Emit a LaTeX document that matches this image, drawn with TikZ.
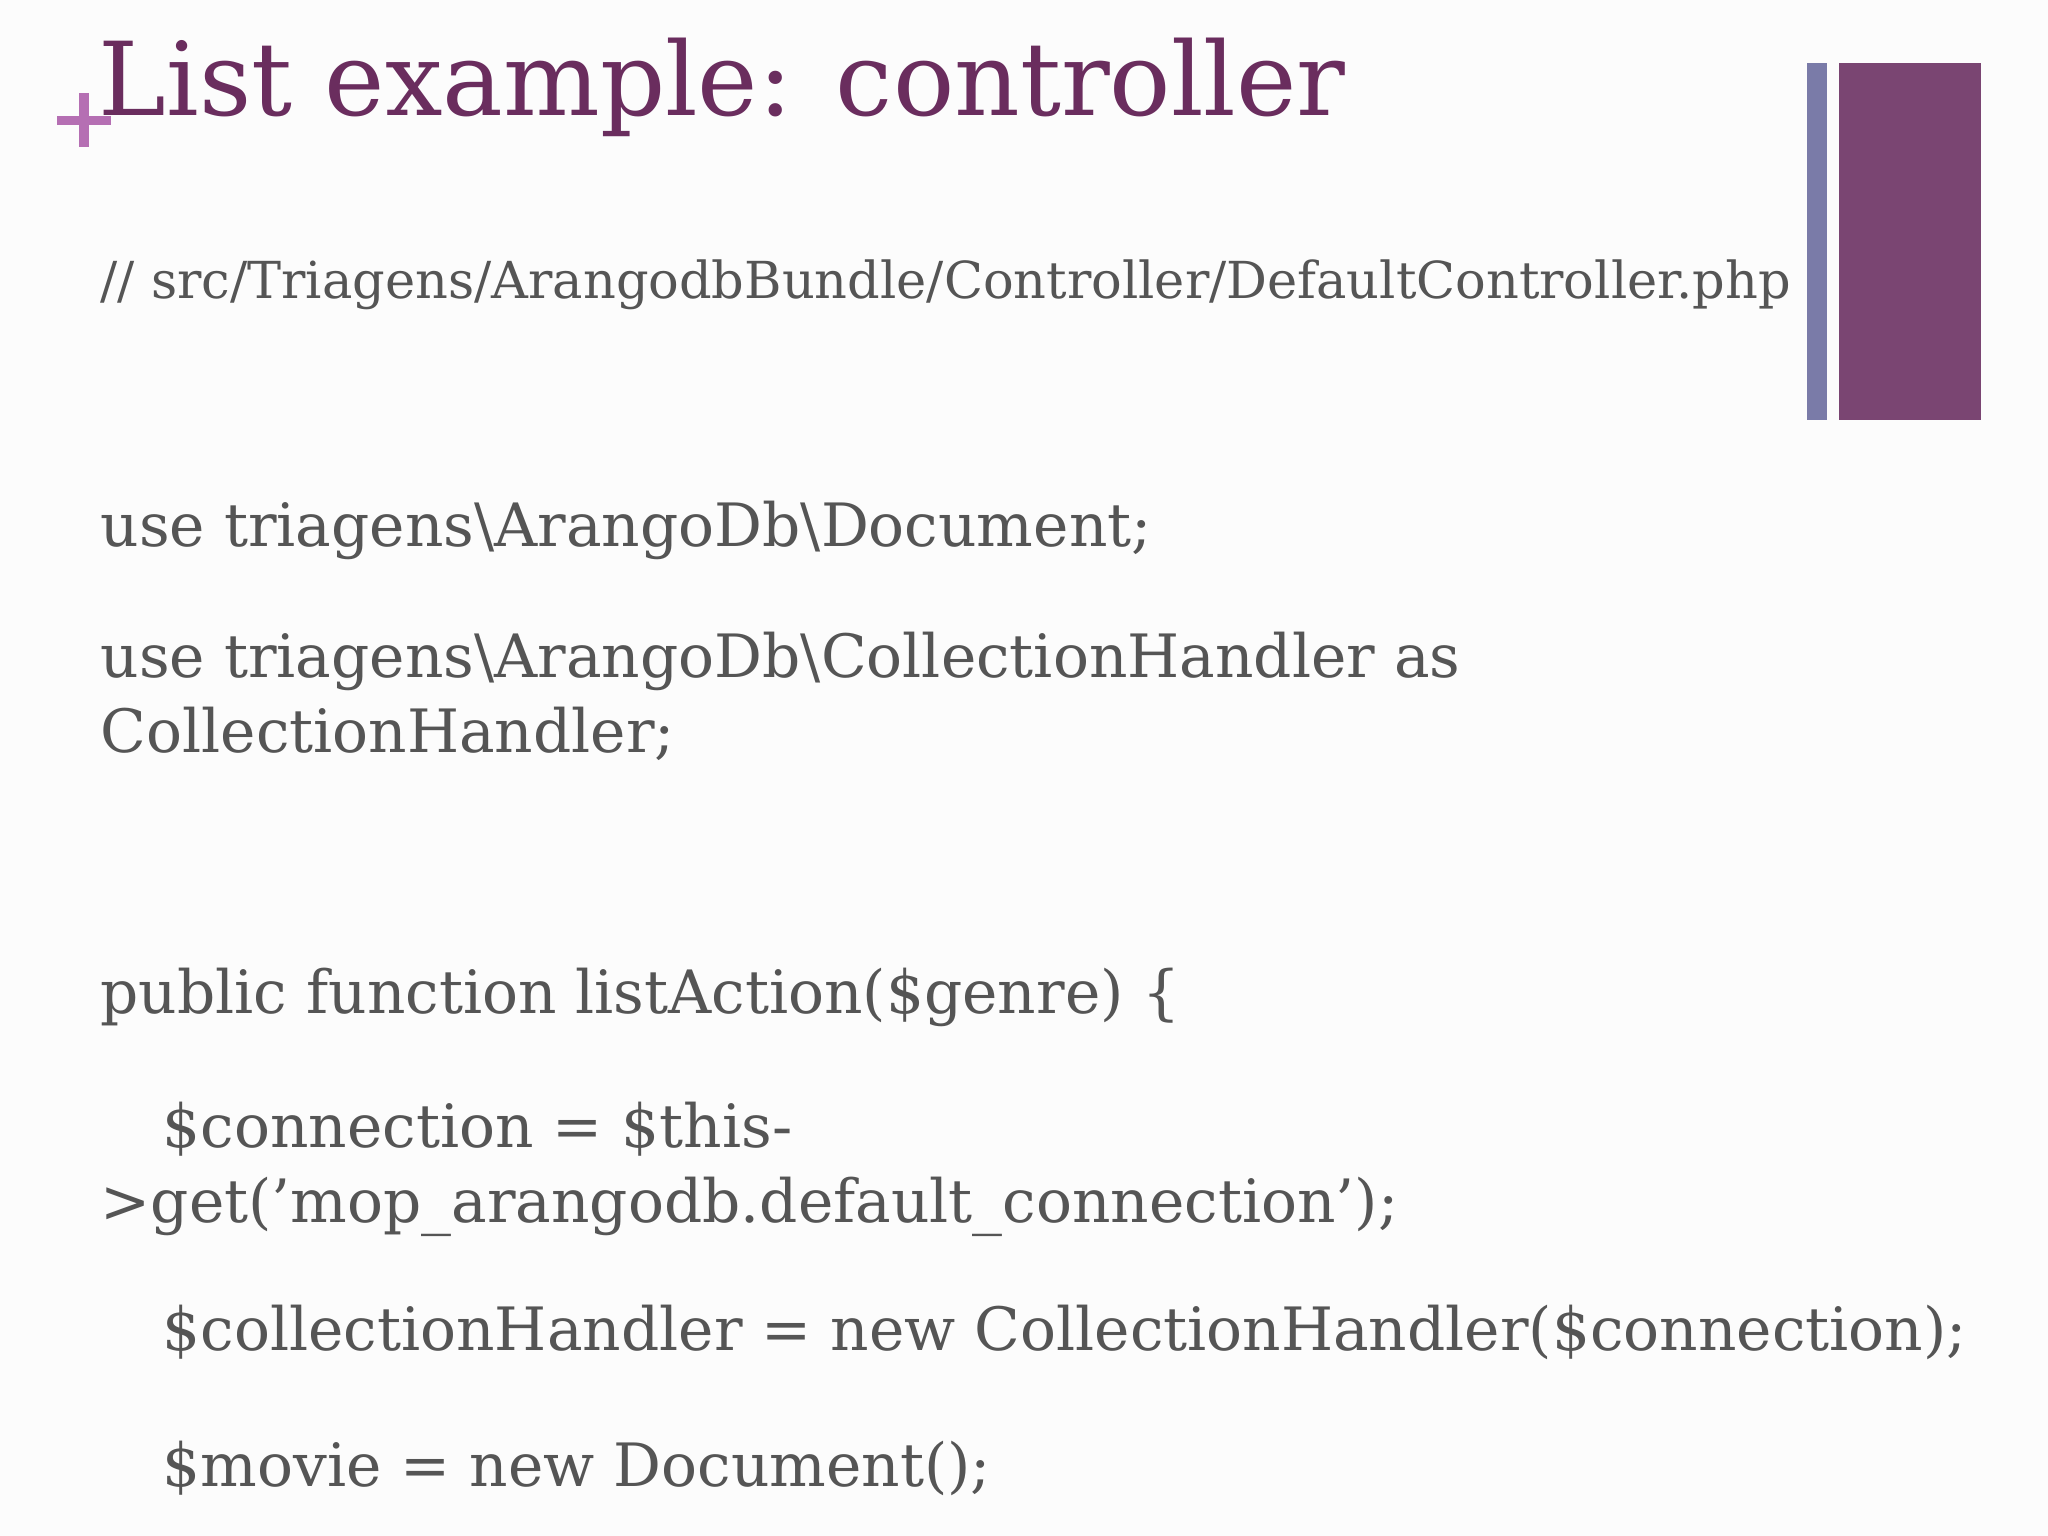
\documentclass[tikz,border=0pt]{standalone}
\usepackage{fontspec}
\setmainfont{DejaVu Serif}
\definecolor{txt}{HTML}{555555}
\definecolor{ttl}{HTML}{6A2D5E}
\definecolor{plus}{HTML}{B56FB3}
\definecolor{barA}{HTML}{7A7BA8}
\definecolor{barB}{HTML}{7A4572}
\begin{document}
\begin{tikzpicture}[x=0.01cm,y=-0.01cm,
  code/.style={anchor=base west,inner sep=0,text=txt,font=\fontsize{17}{20}\selectfont}]
\fill[white!98!gray] (0,0) rectangle (2048,1536);
\useasboundingbox (0,0) rectangle (2048,1536);
\fill[barA] (1807,63) rectangle (1827,420);
\fill[barB] (1839,63) rectangle (1981,420);
\draw[plus,line width=0.09cm] (57,120) -- (111,120) (84,93) -- (84,147);
\node[anchor=base west,inner sep=0,text=ttl,font=\fontsize{29}{34}\selectfont] (title) at (98,115) {List example: controller};
\node[code,font=\fontsize{14.5}{17}\selectfont] (path) at (100,298) {// src/Triagens/ArangodbBundle/Controller/DefaultController.php};
\node[code] (l1) at (100,546) {use triagens\textbackslash ArangoDb\textbackslash Document;};
\node[code] (l2) at (100,677) {use triagens\textbackslash ArangoDb\textbackslash CollectionHandler as};
\node[code] (l3) at (100,752) {CollectionHandler;};
\node[code] (l4) at (100,1013) {public function listAction(\$genre) \{};
\node[code] (l5) at (162,1147) {\$connection = \$this-};
\node[code] (l6) at (100,1222) {>get('mop\_arangodb.default\_connection');};
\node[code] (l7) at (162,1350) {\$collectionHandler = new CollectionHandler(\$connection);};
\node[code] (l8) at (162,1486) {\$movie = new Document();};
\end{tikzpicture}
\end{document}
